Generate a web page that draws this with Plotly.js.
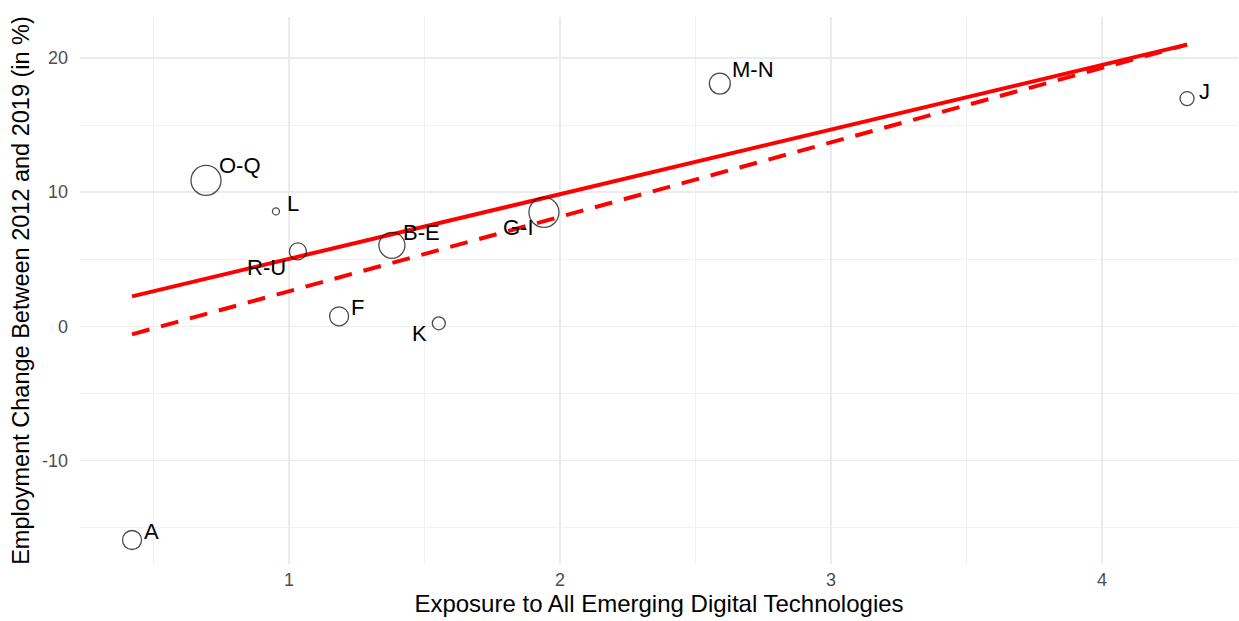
<!DOCTYPE html>
<html>
<head>
<meta charset="utf-8">
<script src="https://cdn.plot.ly/plotly-3.0.1.min.js"></script>
<style>
  html, body { margin: 0; padding: 0; background: #ffffff; }
  #chart { width: 1239px; height: 621px; }
</style>
</head>
<body>
<div id="chart"></div>
<script>
// Sector groups (NACE sections)
const sectors = ["A", "O-Q", "L", "R-U", "F", "B-E", "K", "G-I", "M-N", "J"];
// Exposure to all emerging digital technologies
const exposure = [0.421, 0.694, 0.952, 1.033, 1.185, 1.380, 1.553, 1.941, 2.590, 4.314];
// Employment change 2012-2019 (in %)
const empChange = [-15.93, 10.87, 8.56, 5.58, 0.74, 6.03, 0.22, 8.49, 18.09, 16.97];
// Relative sector size (drives the circle size)
const sectorWeight = [19, 30, 7, 17, 19, 26, 13, 30, 21, 14];

// Fitted lines: unweighted (solid) and weighted (dashed)
const fitX = [0.421, 4.314];
const fitSolid = [2.23, 20.99];
const fitDashed = [-0.60, 20.99];

// Pixel offsets of each text label relative to its point
const labelDx = [19, 34, 17, -31, 18, 30, -19, -25, 33, 17];
const labelDy = [8, 15, 8, -16, 9, 13, -10, -15, 14, 7];

const font = "Liberation Sans, Arial, sans-serif";

const traces = [
  {
    x: fitX, y: fitSolid, type: "scatter", mode: "lines",
    line: { color: "#ff0000", width: 4 }, hoverinfo: "skip"
  },
  {
    x: fitX, y: fitDashed, type: "scatter", mode: "lines",
    line: { color: "#ff0000", width: 4, dash: "18px,12px" }, hoverinfo: "skip"
  },
  {
    x: exposure, y: empChange, type: "scatter", mode: "markers",
    text: sectors,
    marker: {
      size: sectorWeight, sizemode: "diameter",
      color: "rgba(0,0,0,0)",
      line: { color: "#000000", width: 1.3 }
    }
  }
];

const annotations = sectors.map((s, i) => ({
  x: exposure[i], y: empChange[i], xref: "x", yref: "y",
  text: s, showarrow: false,
  xshift: labelDx[i], yshift: labelDy[i],
  font: { family: font, size: 22, color: "#000000" }
}));

const layout = {
  width: 1239, height: 621,
  margin: { l: 80, r: 1, t: 17, b: 57 },
  paper_bgcolor: "#ffffff", plot_bgcolor: "#ffffff",
  showlegend: false,
  font: { family: font },
  xaxis: {
    range: [0.229, 4.502],
    tickvals: [1, 2, 3, 4], ticktext: ["1", "2", "3", "4"],
    showgrid: true, gridcolor: "#ebebeb", gridwidth: 1.3,
    minor: { tickvals: [0.5, 1.5, 2.5, 3.5], showgrid: true, gridcolor: "#f0f0f0", gridwidth: 0.9 },
    zeroline: false, showline: false, ticks: "",
    tickfont: { family: font, size: 18, color: "#4d4d4d" },
    ticklabelstandoff: 3,
    title: { text: "Exposure to All Emerging Digital Technologies", font: { family: font, size: 24, color: "#000000" }, standoff: 2 }
  },
  yaxis: {
    range: [-17.72, 23.05],
    tickvals: [-10, 0, 10, 20], ticktext: ["-10", "0", "10", "20"],
    showgrid: true, gridcolor: "#ebebeb", gridwidth: 1.3,
    minor: { tickvals: [-15, -5, 5, 15], showgrid: true, gridcolor: "#f0f0f0", gridwidth: 0.9 },
    zeroline: false, showline: false, ticks: "",
    tickfont: { family: font, size: 18, color: "#4d4d4d" },
    ticklabelstandoff: 11,
    title: { text: "Employment Change Between 2012 and 2019 (in %)", font: { family: font, size: 23.5, color: "#000000" }, standoff: 5 }
  },
  annotations: annotations
};

Plotly.newPlot("chart", traces, layout, { displayModeBar: false, staticPlot: true });
</script>
</body>
</html>
